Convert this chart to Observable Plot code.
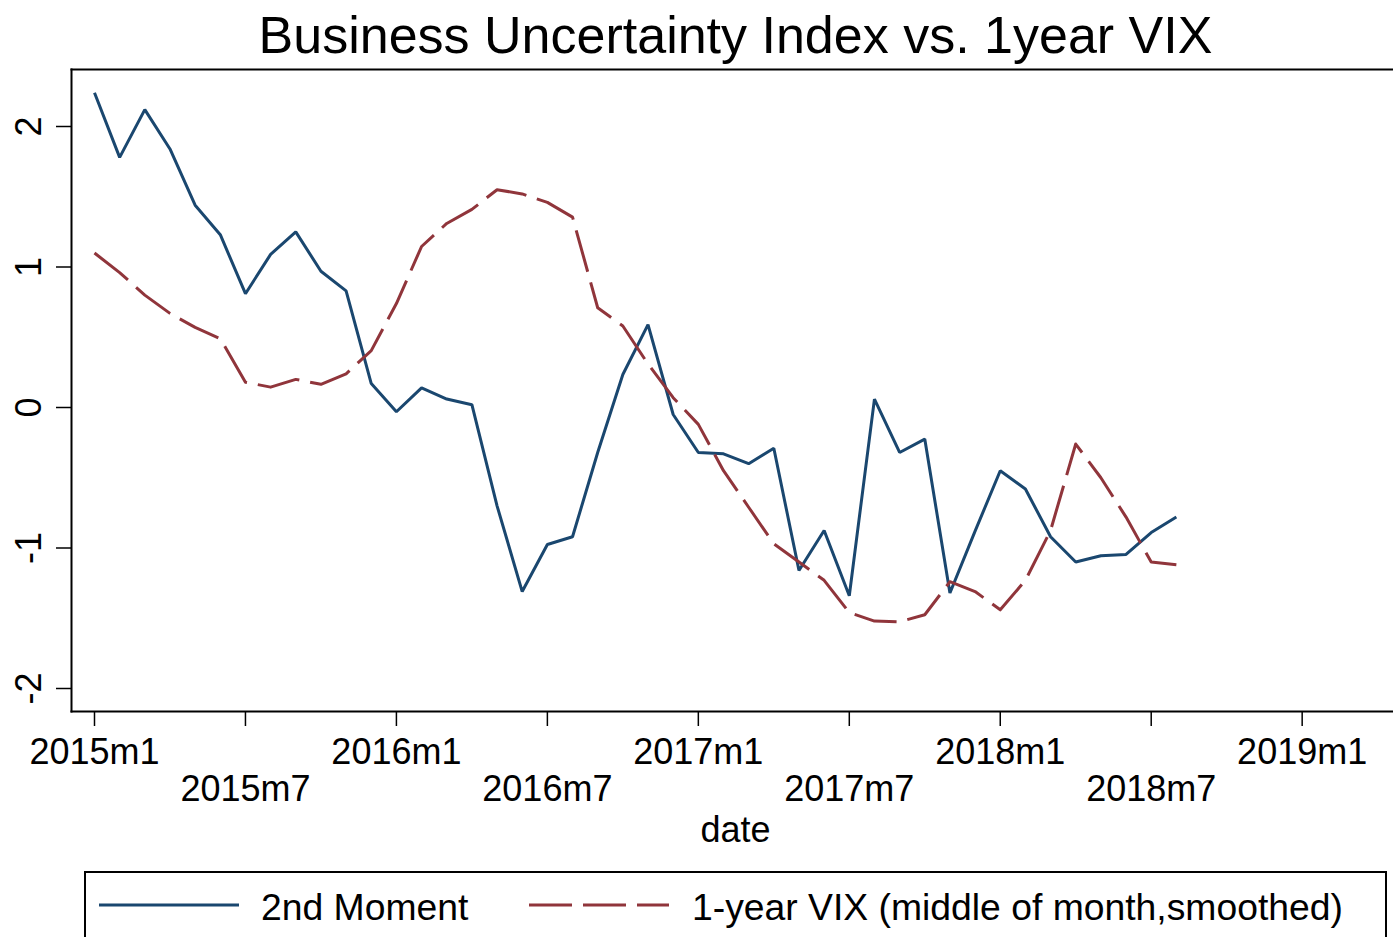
<!DOCTYPE html>
<html>
<head>
<meta charset="utf-8">
<script src="https://cdn.jsdelivr.net/npm/d3@7"></script>
<script src="https://cdn.jsdelivr.net/npm/@observablehq/plot@0.6"></script>
<style>
  html, body { margin: 0; padding: 0; background: #fff; overflow: hidden; }
  #wrap { position: relative; width: 1393px; height: 937px; font-family: "Liberation Sans", Arial, Helvetica, sans-serif; }
  #legend { position: absolute; left: 84px; top: 871px; width: 1303px; height: 100px; box-sizing: border-box; border: 2px solid #000; background: #fff; }
  #legend svg { display: block; }
</style>
</head>
<body>
<div id="wrap">
  <div id="chart"></div>
  <div id="legend"></div>
</div>
<script>
// ---- Data ----
const titleText = "Business Uncertainty Index vs. 1year VIX";
const xLabel = "date";
const seriesNames = ["2nd Moment", "1-year VIX (middle of month,smoothed)"];
const seriesColors = ["#1a476f", "#90353b"];
// monthly values 2015m1 .. 2018m8
const secondMoment = [2.24, 1.78, 2.12, 1.84, 1.44, 1.23, 0.81, 1.09, 1.25, 0.97, 0.83, 0.17,
  -0.03, 0.14, 0.06, 0.02, -0.70, -1.31, -0.975, -0.92, -0.32, 0.235, 0.59, -0.05,
  -0.32, -0.33, -0.40, -0.29, -1.16, -0.875, -1.34, 0.06, -0.32, -0.225, -1.32, -0.88,
  -0.45, -0.58, -0.92, -1.10, -1.055, -1.046, -0.89, -0.78];
const vix1y = [1.10, 0.96, 0.80, 0.67, 0.57, 0.49, 0.18, 0.145, 0.20, 0.165, 0.24, 0.405,
  0.74, 1.146, 1.31, 1.41, 1.55, 1.52, 1.46, 1.355, 0.71, 0.58, 0.31, 0.07,
  -0.12, -0.45, -0.71, -0.97, -1.10, -1.23, -1.46, -1.52, -1.525, -1.475, -1.24, -1.31,
  -1.44, -1.23, -0.875, -0.26, -0.50, -0.78, -1.10, -1.12];
const yTicks = [-2, -1, 0, 1, 2];
const yTickLabels = ["-2", "-1", "0", "1", "2"];
const xTicksM1 = [0, 12, 24, 36, 48];
const xTickLabelsM1 = ["2015m1", "2016m1", "2017m1", "2018m1", "2019m1"];
const xTicksM7 = [6, 18, 30, 42];
const xTickLabelsM7 = ["2015m7", "2016m7", "2017m7", "2018m7"];

// ---- Build table ----
const rows = [];
secondMoment.forEach((v, i) => rows.push({m: i, v, s: seriesNames[0]}));
vix1y.forEach((v, i) => rows.push({m: i, v, s: seriesNames[1]}));
const rowsA = rows.filter(d => d.s === seriesNames[0]);
const rowsB = rows.filter(d => d.s === seriesNames[1]);

const FONT = "Liberation Sans, Arial, Helvetica, sans-serif";
const fmtFrom = (ticks, labels) => (t) => labels[ticks.indexOf(t)];

const chart = Plot.plot({
  width: 1393,
  height: 866,
  marginTop: 69,
  marginBottom: 155,
  marginLeft: 71,
  marginRight: 0,
  style: {fontFamily: FONT, background: "#fff", overflow: "visible"},
  x: {type: "linear", domain: [-0.914, 51.63]},
  y: {type: "linear", domain: [-2.1637, 2.4057]},
  marks: [
    Plot.frame({anchor: "top", stroke: "#000", strokeWidth: 2}),
    Plot.frame({anchor: "left", stroke: "#000", strokeWidth: 2}),
    Plot.frame({anchor: "bottom", stroke: "#000", strokeWidth: 2}),
    Plot.axisY({ticks: yTicks, tickFormat: fmtFrom(yTicks, yTickLabels), tickSize: 15, tickPadding: 16,
      tickRotate: -90, textAnchor: "middle", lineAnchor: "bottom", fontSize: 36, fill: "#000",
      stroke: "#000", strokeWidth: 1.5, label: null}),
    Plot.axisX({ticks: xTicksM1, tickFormat: fmtFrom(xTicksM1, xTickLabelsM1), tickSize: 15, tickPadding: 12,
      fontSize: 36, fill: "#000", stroke: "#000", strokeWidth: 1.5, label: null}),
    Plot.axisX({ticks: xTicksM7, tickFormat: fmtFrom(xTicksM7, xTickLabelsM7), tickSize: 15, tickPadding: 49,
      fontSize: 36, fill: "#000", stroke: "#000", strokeWidth: 1.5, label: null}),
    Plot.line(rowsA, {x: "m", y: "v", stroke: seriesColors[0], strokeWidth: 3, strokeLinejoin: "miter", strokeLinecap: "butt"}),
    Plot.line(rowsB, {x: "m", y: "v", stroke: seriesColors[1], strokeWidth: 3, strokeDasharray: "43,11", strokeLinecap: "butt"}),
    Plot.text([titleText], {text: d => d, frameAnchor: "top", dx: 3, dy: -17, lineAnchor: "bottom", fontSize: 52, fill: "#000"}),
    Plot.text([xLabel], {text: d => d, frameAnchor: "bottom", dx: 3, dy: 130, lineAnchor: "bottom", fontSize: 36, fill: "#000"})
  ]
});
document.getElementById("chart").appendChild(chart);

// ---- Legend ----
const lg = d3.select("#legend").append("svg").attr("width", 1299).attr("height", 96)
  .style("font-family", FONT);
const items = [
  {name: seriesNames[0], color: seriesColors[0], dash: null, x0: 13, x1: 153, tx: 175},
  {name: seriesNames[1], color: seriesColors[1], dash: "43,11", x0: 443, x1: 583, tx: 606}
];
items.forEach(it => {
  lg.append("line").attr("x1", it.x0).attr("x2", it.x1).attr("y1", 32).attr("y2", 32)
    .attr("stroke", it.color).attr("stroke-width", 3).attr("stroke-dasharray", it.dash);
  lg.append("text").attr("x", it.tx).attr("y", 47).attr("font-size", 37.3).attr("fill", "#000").text(it.name);
});
</script>
</body>
</html>
